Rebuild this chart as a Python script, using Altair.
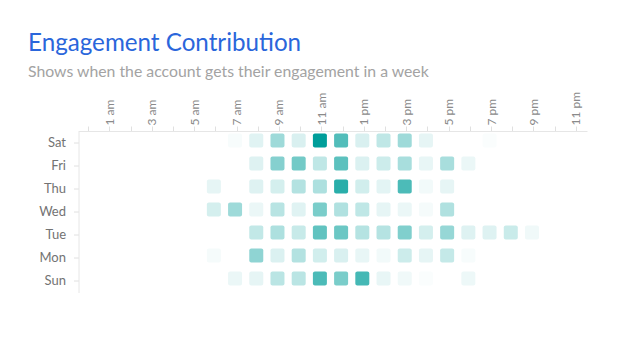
import altair as alt
import pandas as pd

days = ["Sat", "Fri", "Thu", "Wed", "Tue", "Mon", "Sun"]
hours = list(range(24))

# engagement intensity (0-100) per hour; None = no activity
sat = [None]*7 + [3, 12, 38, 15, 100, 68, 15, 25, 38, 10, None, None, 2, None, None, None, None]
fri = [None]*8 + [13, 48, 55, 25, 64, 14, 20, 34, 9, 34, 8, None, None, None, None, None]
thu = [None]*6 + [10, None, 13, 17, 30, 32, 84, 18, 11, 70, 5, 10, None, None, None, None, None, None]
wed = [None]*6 + [17, 38, 8, 28, 12, 52, 31, 25, 10, 8, 4, 31, None, None, None, None, None, None]
tue = [None]*8 + [24, 32, 22, 62, 58, 29, 29, 50, 17, 41, 13, 13, 21, 6, None, None]
mon = [None]*6 + [4, None, 44, 14, 30, 18, 15, 9, 5, 20, 10, 23, 3, None, None, None, None, None]
sun = [None]*7 + [8, 10, 27, 27, 70, 52, 73, 9, 6, 2, None, 7, None, None, None, None, None]

series = {"Sat": sat, "Fri": fri, "Thu": thu, "Wed": wed, "Tue": tue, "Mon": mon, "Sun": sun}

rows = []
for d in days:
    for h, v in zip(hours, series[d]):
        if v is not None:
            rows.append({"day": d, "hour": h, "value": v})
df = pd.DataFrame(rows)

font = "Lato"

chart = alt.Chart(df).mark_rect(cornerRadius=2).encode(
    x=alt.X(
        "hour:O",
        scale=alt.Scale(domain=hours, paddingInner=0.34, paddingOuter=0.17),
        axis=alt.Axis(
            orient="top", title=None, labelAngle=-90, labelAlign="left",
            labelBaseline="middle", labelPadding=1, tickSize=5, translate=2.5,
            labelExpr="datum.value % 2 == 1 ? ((datum.value % 12 == 0 ? 12 : datum.value % 12) + (datum.value < 12 ? ' am' : ' pm')) : ''",
            domainColor="#e6e6e6", tickColor="#e0e0e0", labelColor="#8a8a8a",
            labelFontSize=12, labelFont=font, grid=False,
        ),
    ),
    y=alt.Y(
        "day:O",
        scale=alt.Scale(domain=days, paddingInner=0.39, paddingOuter=0.195),
        axis=alt.Axis(
            title=None, tickSize=5, labelPadding=8, translate=3,
            domainColor="#e6e6e6", tickColor="#e0e0e0", labelColor="#737373",
            labelFontSize=13, labelFont=font, grid=False,
        ),
    ),
    color=alt.Color(
        "value:Q",
        scale=alt.Scale(domain=[0, 100], range=["#ffffff", "#009e9a"], interpolate="rgb"),
        legend=None,
    ),
).properties(
    width=509,
    height=161,
    title=alt.TitleParams(
        text="Engagement Contribution",
        subtitle="Shows when the account gets their engagement in a week",
        anchor="start", frame="group", dx=-48, offset=10,
        font=font, fontSize=24.2, fontWeight="normal", color="#2a66db",
        subtitleFont=font, subtitleFontSize=15.8, subtitleColor="#a3a3a3",
        subtitlePadding=8,
    ),
    autosize=alt.AutoSizeParams(type="none"),
    padding={"left": 68, "top": 121, "right": 33, "bottom": 62},
    background="white",
).configure_view(stroke=None)

chart.save("out.html", embed_options={"renderer": "svg", "actions": False})
